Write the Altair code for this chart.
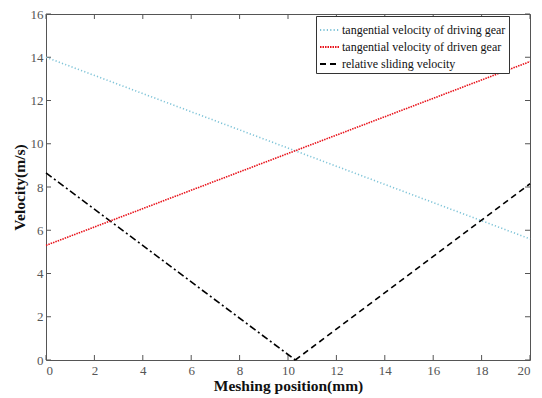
import altair as alt
import pandas as pd

# data
x_pts = [0, 20]
driving = [14.0, 5.6]
driven = [5.3, 13.8]
slide_x_left = [0, 10.3]
slide_y_left = [8.65, 0.0]
slide_x_right = [10.3, 20]
slide_y_right = [0.0, 8.15]
x_ticks = [0, 2, 4, 6, 8, 10, 12, 14, 16, 18, 20]
y_ticks = [0, 2, 4, 6, 8, 10, 12, 14, 16]

names = ["tangential velocity of driving gear",
         "tangential velocity of driven gear",
         "relative sliding velocity"]

rows = []
for xv, yv in zip(x_pts, driving):
    rows.append({"x": xv, "y": yv, "s": names[0]})
for xv, yv in zip(x_pts, driven):
    rows.append({"x": xv, "y": yv, "s": names[1]})
for xv, yv in zip(slide_x_right, slide_y_right):
    rows.append({"x": xv, "y": yv, "s": names[2]})
df = pd.DataFrame(rows)
df_left = pd.DataFrame({"x": slide_x_left, "y": slide_y_left})

W, H = 484, 346
FONT = "Liberation Serif"

xs = alt.Scale(domain=[0, 20], nice=False)
ys = alt.Scale(domain=[0, 16], nice=False)

lines = alt.Chart(df).mark_line(strokeWidth=1.6).encode(
    x=alt.X("x:Q", scale=xs, axis=alt.Axis(values=x_ticks, title="Meshing position(mm)",
                                            tickSize=0, labelPadding=4, grid=False)),
    y=alt.Y("y:Q", scale=ys, axis=alt.Axis(values=y_ticks, title="Velocity(m/s)",
                                            tickSize=0, labelPadding=3, grid=False)),
    color=alt.Color("s:N", sort=names,
                    scale=alt.Scale(domain=names, range=["#7fc4d8", "#e8141c", "#000000"]),
                    legend=alt.Legend(title=None, orient="none", legendX=270, legendY=2,
                                      symbolType="stroke", symbolSize=400, symbolStrokeWidth=2,
                                      strokeColor="#333333", fillColor="white", padding=3,
                                      labelFont=FONT, labelFontSize=12, labelColor="#111",
                                      labelLimit=0, rowPadding=-8, labelOffset=1)),
    strokeDash=alt.StrokeDash("s:N", sort=names,
                              scale=alt.Scale(domain=names, range=[[1.2, 2.2], [1.5, 1], [6, 4]]),
                              legend=None),
    detail="s:N",
)

left = alt.Chart(df_left).mark_line(strokeWidth=1.6, color="black", strokeDash=[7, 3, 2, 3]).encode(
    x=alt.X("x:Q", scale=xs), y=alt.Y("y:Q", scale=ys))

tx = pd.DataFrame({"x": x_ticks})
ty = pd.DataFrame({"y": y_ticks})
tick_col = "#555555"
bt = alt.Chart(tx).mark_rule(color=tick_col).encode(x=alt.X("x:Q", scale=xs), y=alt.value(H), y2=alt.value(H - 5))
tt = alt.Chart(tx).mark_rule(color=tick_col).encode(x=alt.X("x:Q", scale=xs), y=alt.value(0), y2=alt.value(5))
lt = alt.Chart(ty).mark_rule(color=tick_col).encode(y=alt.Y("y:Q", scale=ys), x=alt.value(0), x2=alt.value(5))
rt = alt.Chart(ty).mark_rule(color=tick_col).encode(y=alt.Y("y:Q", scale=ys), x=alt.value(W), x2=alt.value(W - 5))

chart = alt.layer(bt, tt, lt, rt, left, lines).properties(
    width=W, height=H,
    autosize=alt.AutoSizeParams(type="none"),
    padding={"left": 38, "top": 6, "right": 4, "bottom": 36},
).configure_view(stroke="#555555", strokeWidth=1).configure_axis(
    domain=False, labelFont=FONT, labelFontSize=13, labelColor="#555555",
    titleFont=FONT, titleFontSize=15.5, titleFontWeight="bold", titleColor="#111111",
).configure_axisX(titlePadding=1).configure_axisY(titlePadding=3)

chart.save("out.html", embed_options={"renderer": "svg", "actions": False})
